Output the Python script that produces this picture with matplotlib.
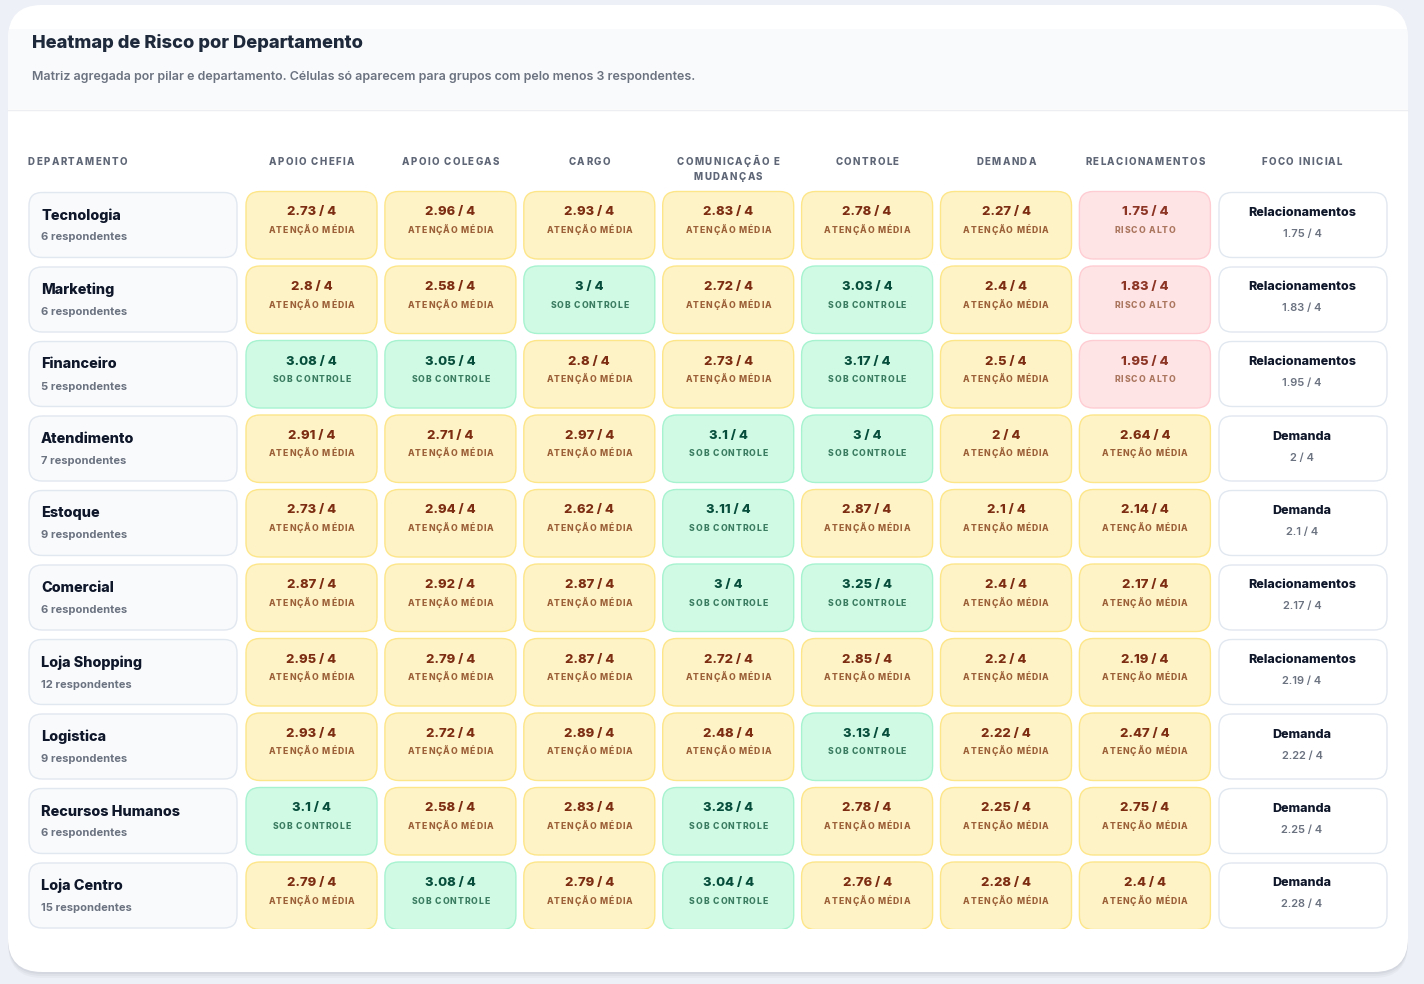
import matplotlib
matplotlib.use("Agg")
import matplotlib.pyplot as plt
from matplotlib.patches import FancyBboxPatch, Rectangle
from matplotlib.font_manager import FontProperties, findfont, get_font

departamentos = ["Tecnologia", "Marketing", "Financeiro", "Atendimento", "Estoque",
                 "Comercial", "Loja Shopping", "Logistica", "Recursos Humanos", "Loja Centro"]
respondentes = [6, 6, 5, 7, 9, 6, 12, 9, 6, 15]
pilares = ["Apoio Chefia", "Apoio Colegas", "Cargo", "Comunicação e Mudanças",
           "Controle", "Demanda", "Relacionamentos"]
cabecalhos = ["APOIO CHEFIA", "APOIO COLEGAS", "CARGO", "COMUNICAÇÃO E\nMUDANÇAS",
              "CONTROLE", "DEMANDA", "RELACIONAMENTOS"]
notas = [
    [2.73, 2.96, 2.93, 2.83, 2.78, 2.27, 1.75],
    [2.8, 2.58, 3, 2.72, 3.03, 2.4, 1.83],
    [3.08, 3.05, 2.8, 2.73, 3.17, 2.5, 1.95],
    [2.91, 2.71, 2.97, 3.1, 3, 2, 2.64],
    [2.73, 2.94, 2.62, 3.11, 2.87, 2.1, 2.14],
    [2.87, 2.92, 2.87, 3, 3.25, 2.4, 2.17],
    [2.95, 2.79, 2.87, 2.72, 2.85, 2.2, 2.19],
    [2.93, 2.72, 2.89, 2.48, 3.13, 2.22, 2.47],
    [3.1, 2.58, 2.83, 3.28, 2.78, 2.25, 2.75],
    [2.79, 3.08, 2.79, 3.04, 2.76, 2.28, 2.4],
]

FONT = ["Inter", "DejaVu Sans"]
DPI = 100

# status -> (fill, border, value color, label color, label)
estilos = {
    "ok": ("#d1fae5", "#a7f3d0", "#064e3b", "#3a7c60", "SOB CONTROLE"),
    "mid": ("#fef3c7", "#fde68a", "#7c2d12", "#9c6038", "ATENÇÃO MÉDIA"),
    "alto": ("#ffe4e6", "#fecdd3", "#8c3525", "#ab765e", "RISCO ALTO"),
}


def status(v):
    if v >= 3:
        return "ok"
    if v < 2:
        return "alto"
    return "mid"


def spaced(ax, x, y, s, size, color, spacing, ha="center", weight="heavy"):
    prop = FontProperties(family=FONT, size=size, weight=weight)
    font = get_font(findfont(prop))
    font.set_size(size, DPI)
    widths = []
    for c in s:
        g = font.load_char(ord(c))
        widths.append(g.linearHoriAdvance / 65536)
    total = sum(widths) + spacing * (len(s) - 1)
    pos = x - total / 2 if ha == "center" else x
    for c, w in zip(s, widths):
        ax.text(pos, y, c, fontproperties=prop, color=color, ha="left", va="center")
        pos += w + spacing


fig = plt.figure(figsize=(14.24, 9.84), dpi=DPI)
fig.patch.set_facecolor("#edf0f6")
ax = fig.add_axes([0, 0, 1, 1])
ax.set_xlim(0, 1424)
ax.set_ylim(984, 0)
ax.axis("off")

# card + shadow
for off, a in [(6, 0.03), (4, 0.04), (2, 0.05)]:
    ax.add_patch(FancyBboxPatch((8, 5 + off), 1400, 967, boxstyle="round,pad=0,rounding_size=34",
                                fc="#1e293b", ec="none", alpha=a))
card = FancyBboxPatch((8, 5), 1400, 967, boxstyle="round,pad=0,rounding_size=34",
                      fc="white", ec="none")
ax.add_patch(card)
band = Rectangle((8, 29), 1400, 80, fc="#f9fafb", ec="none")
ax.add_patch(band)
band.set_clip_path(card)
ax.plot([8, 1408], [109.5, 109.5], color="#eceef2", lw=1)

ax.text(32, 43.5, "Heatmap de Risco por Departamento", fontsize=13.2, fontweight="heavy",
        family=FONT, color="#1e293b", va="center")
ax.text(32, 77, "Matriz agregada por pilar e departamento. Células só aparecem para grupos com pelo menos 3 respondentes.",
        fontsize=8.95, fontweight="semibold", family=FONT, color="#6b7280", va="center")

# column headers
col_x0 = 246
col_step = 138.9
col_w = 131
spaced(ax, 28, 162, "DEPARTAMENTO", 7.0, "#5f6777", 1.35, ha="left")
for j, h in enumerate(cabecalhos):
    cx = col_x0 + j * col_step + col_w / 2
    for k, line in enumerate(h.split("\n")):
        spaced(ax, cx, 162 + k * 15, line, 7.0, "#5f6777", 1.35)
spaced(ax, 1302, 162, "FOCO INICIAL", 7.0, "#5f6777", 1.35)

clip = Rectangle((0, 0), 1424, 928.5, transform=ax.transData)

row_y0 = 192
row_step = 74.5
row_h = 66
for i, dep in enumerate(departamentos):
    top = row_y0 + i * row_step
    ax.add_patch(FancyBboxPatch((29, top + 0.5), 208, row_h - 1, boxstyle="round,pad=0,rounding_size=13",
                                fc="#f8fafc", ec="#e2e8f0", lw=1))
    ax.text(41, top + 23.5, dep, fontsize=10.4, fontweight="heavy", family=FONT, color="#0f172a", va="center")
    ax.text(41, top + 45.5, f"{respondentes[i]} respondentes", fontsize=8, fontweight="bold",
            family=FONT, color="#6b7280", va="center")
    for j, v in enumerate(notas[i]):
        fc, ec, vc, lc, lab = estilos[status(v)]
        x = col_x0 + j * col_step
        p = FancyBboxPatch((x, top - 0.5), col_w, row_h + 1.5, boxstyle="round,pad=0,rounding_size=14",
                           fc=fc, ec=ec, lw=1)
        ax.add_patch(p)
        p.set_clip_path(clip)
        cx = x + col_w / 2
        ax.text(cx, top + 20.5, f"{v:g} / 4", fontsize=9.4, fontweight="heavy", family=FONT,
                color=vc, ha="center", va="center")
        spaced(ax, cx, top + 38.5, lab, 6.2, lc, 0.95)
    # foco inicial = pilar com menor nota
    jmin = min(range(len(pilares)), key=lambda k: notas[i][k])
    ax.add_patch(FancyBboxPatch((1219, top + 0.5), 168, row_h - 1, boxstyle="round,pad=0,rounding_size=13",
                                fc="white", ec="#e2e8f0", lw=1))
    ax.text(1302, top + 21, pilares[jmin], fontsize=9, fontweight="heavy", family=FONT,
            color="#0f172a", ha="center", va="center")
    ax.text(1302, top + 42, f"{notas[i][jmin]:g} / 4", fontsize=8, fontweight="semibold",
            family=FONT, color="#6b7280", ha="center", va="center")

fig.savefig("out.png", dpi=DPI, facecolor=fig.get_facecolor())
